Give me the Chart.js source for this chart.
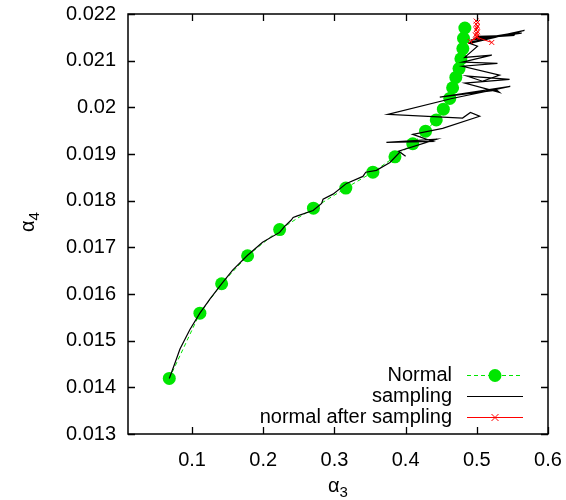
<!DOCTYPE html>
<html>
<head>
<meta charset="utf-8">
<script src="https://cdn.jsdelivr.net/npm/chart.js"></script>
<style>
  html, body { margin: 0; padding: 0; background: #fff; }
  #wrap { width: 566px; height: 500px; }
</style>
</head>
<body>
<div id="wrap"><canvas id="chart" width="566" height="500"></canvas></div>
<script>
// Data
const normalX = [0.068, 0.111, 0.1415, 0.178, 0.223, 0.2705, 0.316, 0.354, 0.385, 0.410, 0.428,
  0.443, 0.453, 0.462, 0.466, 0.4705, 0.475, 0.4776, 0.4804, 0.4813, 0.4832];
const normalY = [0.01419, 0.01559, 0.01622, 0.01682, 0.01738, 0.01784, 0.01827, 0.01861, 0.01894, 0.01922, 0.01949,
  0.01973, 0.01996, 0.02019, 0.02042, 0.02064, 0.02083, 0.02104, 0.02126, 0.02148, 0.02170];

const samplingX = [0.068, 0.076, 0.083, 0.097, 0.111, 0.125, 0.142, 0.157, 0.178, 0.199, 0.223, 0.230, 0.239, 0.242,
  0.247, 0.270, 0.282, 0.284, 0.298, 0.317, 0.340, 0.344, 0.359, 0.378, 0.392, 0.400, 0.390, 0.444, 0.373, 0.438,
  0.410, 0.452, 0.504, 0.491, 0.480, 0.375, 0.465, 0.547, 0.448, 0.528, 0.532, 0.483, 0.546, 0.486, 0.508, 0.532,
  0.480, 0.529, 0.480, 0.521, 0.483, 0.501, 0.490, 0.567, 0.488, 0.560, 0.491, 0.563, 0.495, 0.553, 0.501];
const samplingY = [0.01419, 0.01452, 0.01482, 0.01524, 0.01559, 0.01589, 0.01623, 0.01651, 0.01683, 0.01711, 0.01732,
  0.01745, 0.01758, 0.01764, 0.01767, 0.01779, 0.01794, 0.01803, 0.01814, 0.01837, 0.01852, 0.01861, 0.01865, 0.01882,
  0.01904, 0.01895, 0.01906, 0.01932, 0.01925, 0.01927, 0.01942, 0.01955, 0.01981, 0.01989, 0.01977, 0.01985, 0.02019,
  0.02045, 0.02022, 0.02037, 0.02032, 0.02052, 0.02060, 0.02067, 0.02056, 0.02069, 0.02088, 0.02094, 0.02097, 0.02112,
  0.02107, 0.02131, 0.02137, 0.02165, 0.02139, 0.02161, 0.02144, 0.02159, 0.02148, 0.02154, 0.02152];

const afterX = [0.499, 0.501, 0.499, 0.501, 0.500, 0.499, 0.501, 0.500, 0.498, 0.500, 0.491, 0.500, 0.521];
const afterY = [0.02185, 0.02182, 0.02178, 0.02174, 0.02170, 0.02166, 0.02162, 0.02158, 0.02155, 0.02152, 0.02141, 0.02150, 0.02139];

const seriesLabels = ['Normal', 'sampling', 'normal after sampling'];

const xTicks = [0.1, 0.2, 0.3, 0.4, 0.5, 0.6];
const xTickLabels = ['0.1', '0.2', '0.3', '0.4', '0.5', '0.6'];
const yTicks = [0.013, 0.014, 0.015, 0.016, 0.017, 0.018, 0.019, 0.020, 0.021, 0.022];
const yTickLabels = ['0.013', '0.014', '0.015', '0.016', '0.017', '0.018', '0.019', '0.02', '0.021', '0.022'];

const GREEN = '#00e600';
const FONT = 'Liberation Sans, Arial, sans-serif';

function toPoints(xs, ys) {
  return xs.map((x, i) => ({ x: x, y: ys[i] }));
}

// Frame with inward ticks on all four sides (gnuplot style)
const framePlugin = {
  id: 'frame',
  afterDatasetsDraw(chart) {
    const { ctx, chartArea: a, scales } = chart;
    const tl = 7;
    ctx.save();
    ctx.strokeStyle = '#000';
    ctx.lineWidth = 1.3;
    ctx.beginPath();
    xTicks.forEach(v => {
      const px = Math.round(scales.x.getPixelForValue(v)) + 0.5;
      ctx.moveTo(px, a.bottom); ctx.lineTo(px, a.bottom - tl);
      ctx.moveTo(px, a.top); ctx.lineTo(px, a.top + tl);
    });
    yTicks.forEach(v => {
      const py = Math.round(scales.y.getPixelForValue(v)) + 0.5;
      ctx.moveTo(a.left, py); ctx.lineTo(a.left + tl, py);
      ctx.moveTo(a.right, py); ctx.lineTo(a.right - tl, py);
    });
    ctx.stroke();
    ctx.lineWidth = 1.5;
    ctx.strokeRect(a.left, a.top, a.right - a.left, a.bottom - a.top);
    ctx.restore();
  }
};

// Legend drawn like gnuplot: text right-aligned, sample to the right
const keyPlugin = {
  id: 'key',
  afterDraw(chart) {
    const { ctx } = chart;
    const textRight = 452, x0 = 467, x1 = 523, mid = 495;
    const rows = [375, 396, 417];
    ctx.save();
    ctx.font = '20px ' + FONT;
    ctx.textAlign = 'right';
    ctx.textBaseline = 'middle';
    chart.data.datasets.forEach((ds, i) => {
      const y = rows[i] + 0.5;
      ctx.fillStyle = '#000';
      ctx.fillText(ds.label, textRight, rows[i]);
      ctx.strokeStyle = ds.borderColor;
      ctx.lineWidth = ds.borderWidth;
      ctx.setLineDash(ds.borderDash || []);
      ctx.beginPath();
      ctx.moveTo(x0, y); ctx.lineTo(x1, y);
      ctx.stroke();
      ctx.setLineDash([]);
      if (ds.pointStyle === 'circle' && ds.pointRadius > 0) {
        ctx.fillStyle = ds.backgroundColor;
        ctx.beginPath();
        ctx.arc(mid, y, ds.pointRadius, 0, Math.PI * 2);
        ctx.fill();
      } else if (ds.pointStyle === 'crossRot') {
        const r = ds.pointRadius;
        ctx.beginPath();
        ctx.moveTo(mid - r, y - r); ctx.lineTo(mid + r, y + r);
        ctx.moveTo(mid - r, y + r); ctx.lineTo(mid + r, y - r);
        ctx.stroke();
      }
    });
    ctx.restore();
  }
};

// Axis titles with subscripts
const titlePlugin = {
  id: 'titles',
  afterDraw(chart) {
    const { ctx } = chart;
    ctx.save();
    ctx.fillStyle = '#000';
    ctx.textBaseline = 'alphabetic';
    ctx.textAlign = 'left';
    // x title
    ctx.font = '20px ' + FONT;
    const wA = ctx.measureText('α').width;
    ctx.font = '15px ' + FONT;
    const w3 = ctx.measureText('3').width;
    let sx = 338 - (wA + w3) / 2;
    ctx.font = '20px ' + FONT;
    ctx.fillText('α', sx, 492);
    ctx.font = '15px ' + FONT;
    ctx.fillText('3', sx + wA, 497);
    // y title
    ctx.translate(34, 222);
    ctx.rotate(-Math.PI / 2);
    sx = -(wA + w3) / 2;
    ctx.font = '20px ' + FONT;
    ctx.fillText('α', sx, 0);
    ctx.font = '15px ' + FONT;
    ctx.fillText('4', sx + wA, 5);
    ctx.restore();
  }
};

new Chart(document.getElementById('chart').getContext('2d'), {
  type: 'scatter',
  data: {
    datasets: [
      {
        label: seriesLabels[0],
        data: toPoints(normalX, normalY),
        showLine: true,
        borderColor: GREEN,
        backgroundColor: GREEN,
        borderWidth: 1,
        borderDash: [4, 3],
        pointStyle: 'circle',
        pointRadius: 6.5,
        pointBorderWidth: 0,
        order: 3
      },
      {
        label: seriesLabels[1],
        data: toPoints(samplingX, samplingY),
        showLine: true,
        borderColor: '#000',
        backgroundColor: '#000',
        borderWidth: 1.2,
        pointRadius: 0,
        order: 2
      },
      {
        label: seriesLabels[2],
        data: toPoints(afterX, afterY),
        showLine: true,
        borderColor: '#ff0000',
        backgroundColor: '#ff0000',
        borderWidth: 1,
        pointStyle: 'crossRot',
        pointRadius: 3.5,
        pointBorderWidth: 1,
        order: 1
      }
    ]
  },
  options: {
    responsive: false,
    animation: false,
    devicePixelRatio: 1,
    layout: { padding: { top: 14, right: 18, left: 0, bottom: 0 } },
    plugins: {
      legend: { display: false },
      tooltip: { enabled: false }
    },
    scales: {
      x: {
        type: 'linear',
        min: 0.01,
        max: 0.6,
        grid: { display: false, drawTicks: false },
        border: { display: false },
        afterBuildTicks: scale => { scale.ticks = xTicks.map(v => ({ value: v })); },
        afterFit: scale => {
          scale.height = 66;
          scale.paddingLeft = 0;
          scale.paddingRight = 0;
        },
        ticks: {
          autoSkip: false,
          maxRotation: 0,
          padding: 14,
          color: '#000',
          font: { family: FONT, size: 20 },
          callback: (v, i) => xTickLabels[i]
        }
      },
      y: {
        type: 'linear',
        min: 0.013,
        max: 0.022,
        grid: { display: false, drawTicks: false },
        border: { display: false },
        afterBuildTicks: scale => { scale.ticks = yTicks.map(v => ({ value: v })); },
        afterFit: scale => {
          scale.width = 128;
          scale.paddingTop = 0;
          scale.paddingBottom = 0;
        },
        ticks: {
          autoSkip: false,
          padding: 12,
          color: '#000',
          font: { family: FONT, size: 20 },
          callback: (v, i) => yTickLabels[i]
        }
      }
    }
  },
  plugins: [framePlugin, keyPlugin, titlePlugin]
});
</script>
</body>
</html>
